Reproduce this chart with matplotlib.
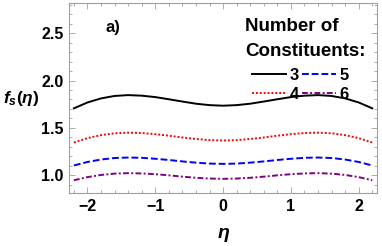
import matplotlib
matplotlib.use("Agg")
import matplotlib.pyplot as plt
from matplotlib.ticker import MultipleLocator

plt.rcParams["font.family"] = "Liberation Sans"
plt.rcParams["font.weight"] = "bold"
plt.rcParams["mathtext.fontset"] = "custom"
plt.rcParams["mathtext.it"] = "Liberation Sans:italic:bold"
plt.rcParams["mathtext.rm"] = "Liberation Sans:bold"
plt.rcParams["mathtext.bf"] = "Liberation Sans:bold"

# eta grid and curve values
eta = [-2.2, -2.0, -1.8, -1.6, -1.4, -1.2, -1.0, -0.8, -0.6, -0.4, -0.2, 0.0,
       0.2, 0.4, 0.6, 0.8, 1.0, 1.2, 1.4, 1.6, 1.8, 2.0, 2.2]
f3 = [1.706, 1.768, 1.811, 1.837, 1.846, 1.840, 1.825, 1.802, 1.778, 1.755, 1.740, 1.734,
      1.740, 1.755, 1.778, 1.802, 1.825, 1.840, 1.846, 1.837, 1.811, 1.768, 1.706]
f4 = [1.345, 1.391, 1.423, 1.442, 1.449, 1.445, 1.433, 1.417, 1.398, 1.382, 1.370, 1.366,
      1.370, 1.382, 1.398, 1.417, 1.433, 1.445, 1.449, 1.442, 1.423, 1.391, 1.345]
f5 = [1.102, 1.139, 1.165, 1.181, 1.186, 1.183, 1.173, 1.160, 1.145, 1.132, 1.122, 1.119,
      1.122, 1.132, 1.145, 1.160, 1.173, 1.183, 1.186, 1.181, 1.165, 1.139, 1.102]
f6 = [0.946, 0.979, 1.002, 1.016, 1.021, 1.018, 1.010, 0.998, 0.984, 0.972, 0.964, 0.961,
      0.964, 0.972, 0.984, 0.998, 1.010, 1.018, 1.021, 1.016, 1.002, 0.979, 0.946]
xtick_labels = ["\u22122", "\u22121", "0", "1", "2"]

fig = plt.figure(figsize=(3.82, 2.46), dpi=100)
ax = fig.add_axes([0.181, 0.215, 0.806, 0.773])

l3, = ax.plot(eta, f3, color="black", lw=1.4, ls="-", label="3")
l4, = ax.plot(eta, f4, color="red", lw=1.4, ls=(0, (1, 1)), label="4")
l5, = ax.plot(eta, f5, color="blue", lw=1.4, ls=(0, (3.5, 1.5)), label="5")
l6, = ax.plot(eta, f6, color="purple", lw=1.4, ls=(0, (3, 1.2, 1, 1.2)), label="6")

ax.set_xlim(-2.27, 2.27)
ax.set_ylim(0.81, 2.82)
ax.xaxis.set_minor_locator(MultipleLocator(0.2))
ax.yaxis.set_major_locator(MultipleLocator(0.5))
ax.yaxis.set_minor_locator(MultipleLocator(0.1))

gray = "#a0a0a0"
for s in ax.spines.values():
    s.set_color(gray)
    s.set_linewidth(0.8)
ax.tick_params(which="both", direction="in", top=True, right=True, color=gray,
               labelsize=11.5, labelcolor="black", width=0.6)
ax.tick_params(which="major", length=4, pad=4)
ax.tick_params(which="minor", length=2)
ax.set_xticks([-2, -1, 0, 1, 2])
ax.set_xticklabels(xtick_labels)

ax.text(-1.73, 2.56, "a)", fontsize=12, fontweight="bold", va="center")

fig.text(0.055, 1 - 99 / 246, r"$f_s(\eta)$", fontsize=12.5, ha="center", va="center")
fig.text(224 / 382, 1 - 235 / 246, r"$\eta$", fontsize=14, ha="center", va="center")

ax.text(0.571, 0.875, "Number of", transform=ax.transAxes,
        fontsize=13.5, fontweight="bold", ha="left", va="center")
ax.text(0.571, 0.744, "Constituents:", transform=ax.transAxes,
        fontsize=13.5, fontweight="bold", ha="left", va="center")
ax.legend(handles=[l3, l4, l5, l6], ncol=2, frameon=False, fontsize=12,
          loc="upper right", bbox_to_anchor=(0.935, 0.70), handlelength=2.05,
          handletextpad=0.2, columnspacing=0.2, labelspacing=0.22, borderpad=0)

fig.savefig("out.png", dpi=100)
